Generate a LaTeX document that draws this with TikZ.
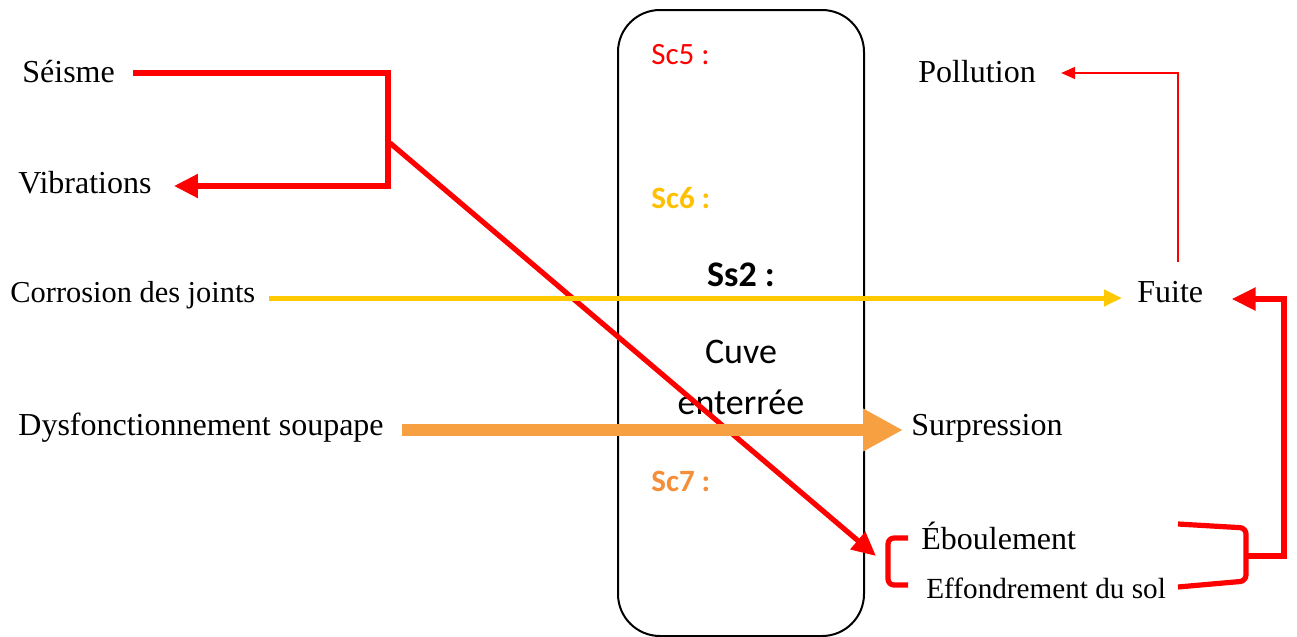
\documentclass[tikz,border=0pt]{standalone}
\usepackage{fontspec}
\setmainfont{Liberation Serif}
\newfontfamily\calib{Carlito}
\usetikzlibrary{arrows.meta,calc}
\definecolor{rouge}{RGB}{255,0,0}
\definecolor{jaune}{RGB}{255,200,0}
\definecolor{jauneTxt}{RGB}{255,192,0}
\definecolor{orangeFl}{RGB}{247,160,66}
\definecolor{orangeTxt}{RGB}{244,142,56}
\begin{document}
\begin{tikzpicture}[x=0.5pt,y=-0.5pt,
  every node/.style={inner sep=0pt},
  evt/.style={anchor=west,font=\fontsize{16}{19}\selectfont},
  sc/.style={anchor=west,font=\calib\fontsize{15.5}{18}\selectfont},
  redthick/.style={draw=rouge,line width=2.6pt},
  bracket/.style={draw=rouge,line width=2.6pt,rounded corners=3pt}]
\useasboundingbox (0,0) rectangle (1297,637);

% the buried tank
\node (cuve) [draw,line width=1pt,rounded corners=21pt,minimum width=123pt,minimum height=313pt] at (741,323) {};
\node (sc5) [sc,text=rouge] at (651,55) {Sc5 :};
\node (sc6) [sc,text=jauneTxt] at (651,198) {\bfseries Sc6 :};
\node (ss2) at (741,275) {\calib\bfseries\fontsize{18}{21}\selectfont Ss2 :};
\node (cuvetxt) at (741,379) {\calib\fontsize{18}{25.5}\selectfont\begin{tabular}{@{}c@{}}Cuve\\enterrée\end{tabular}};
\node (sc7) [sc,text=orangeTxt] at (651,481) {\bfseries Sc7 :};

% causes
\node (seisme) [evt] at (22,72) {Séisme};
\node (vibr) [evt] at (18,183) {Vibrations};
\node (corro) [evt,font=\fontsize{15.2}{18}\selectfont] at (10,295) {Corrosion des joints};
\node (soupape) [evt] at (18,428) {Dysfonctionnement soupape};

% effects
\node (pollu) [evt] at (918,72) {Pollution};
\node (fuite) [evt] at (1137,292) {Fuite};
\node (surp) [evt] at (911,428) {Surpression};
\node (ebou) [evt] at (921,536) {Éboulement};
\node (effon) [evt,font=\fontsize{14.6}{17}\selectfont] at (926,588) {Effondrement du sol};

% Séisme -> Vibrations
\coordinate (s1) at ($(seisme.east)+(18,1)$);
\coordinate (s2) at (388,73);
\coordinate (s3) at (388,186);
\coordinate (vtip) at ($(vibr.east)+(22,3)$);
\draw[redthick,-{Triangle[length=12pt,width=11.5pt]}] (s1) -- (s2) -- (s3) -- (vtip);

% Séisme -> Éboulement / Effondrement
\coordinate (d1) at (390,143);
\draw[redthick,-{Triangle[length=12pt,width=11pt]}] (d1) -- (876,556);

% brackets round the two ground effects
\coordinate (lb1) at (908,538);
\coordinate (lb2) at (888,538);
\coordinate (lb3) at (888,585);
\coordinate (lb4) at (908,585);
\draw[bracket] (lb1) -- (lb2) -- (lb3) -- (lb4);
\coordinate (rb1) at (1178,524);
\coordinate (rb2) at (1246,528);
\coordinate (rb3) at (1246,581);
\coordinate (rb4) at (1178,587);
\draw[bracket] (rb1) -- (rb2) -- (rb3) -- (rb4);

% ground effects -> Fuite
\coordinate (f1) at (1246,556);
\coordinate (f2) at (1284,556);
\coordinate (f3) at (1284,299);
\draw[redthick,-{Triangle[length=12pt,width=11pt]}] (f1) -- (f2) -- (f3) -- ($(fuite.east)+(28,7)$);

% Corrosion -> Fuite
\draw[draw=jaune,line width=2.5pt,-{Triangle[length=9pt,width=8pt]}]
  ($(corro.east)+(13,3)$) -- ($(fuite.west)+(-15,6)$);

% Dysfonctionnement soupape -> Surpression
\draw[draw=orangeFl,line width=6.2pt,-{Triangle[length=20pt,width=20pt]}]
  ($(soupape.east)+(18,2)$) -- ($(surp.west)+(-8,2)$);

% Fuite -> Pollution
\coordinate (p1) at (1178,262);
\coordinate (p2) at (1178,73);
\draw[draw=rouge,line width=0.8pt,-{Triangle[length=7pt,width=6pt]}]
  (p1) -- (p2) -- ($(pollu.east)+(25,1)$);
\end{tikzpicture}
\end{document}
